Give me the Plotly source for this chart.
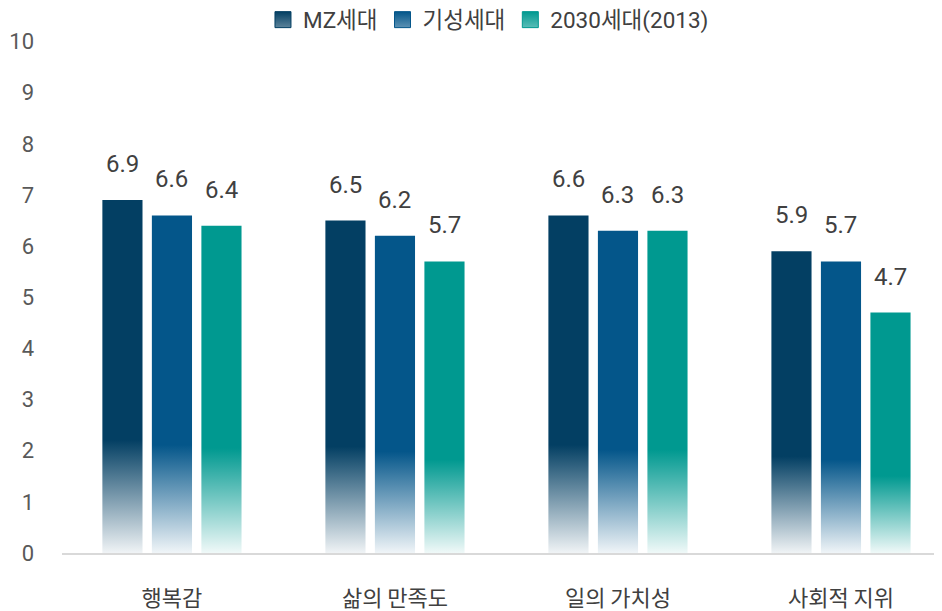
import plotly.graph_objects as go

categories = ["행복감", "삶의 만족도", "일의 가치성", "사회적 지위"]
series_names = ["MZ세대", "기성세대", "2030세대(2013)"]
mz_values = [6.9, 6.5, 6.6, 5.9]
older_values = [6.6, 6.2, 6.3, 5.7]
y2013_values = [6.4, 5.7, 6.3, 4.7]
y_ticks = list(range(0, 11))

series_values = [mz_values, older_values, y2013_values]
colors = [(3, 63, 99), (4, 86, 138), (0, 153, 144)]
offsets = [-0.222, 0.0, 0.222]
half_w = 0.09

# the page body has an 8px margin; figure is sized/offset to compensate
W, H = 934, 603

fig = go.Figure()
for s, (name, vals, col, off) in enumerate(zip(series_names, series_values, colors, offsets)):
    r, g, b = col
    solid = f"rgb({r},{g},{b})"
    cs = [[0, f"rgba({r},{g},{b},0.06)"], [0.32, solid], [1, solid]]
    for i, v in enumerate(vals):
        xc = i + off
        fig.add_trace(go.Scatter(
            x=[xc - half_w, xc + half_w, xc + half_w, xc - half_w, xc - half_w],
            y=[0, 0, v, v, 0],
            mode="none", fill="toself",
            fillcolor=solid,
            fillgradient=dict(type="vertical", colorscale=cs),
            name=name, showlegend=False,
            hoverinfo="skip",
        ))
        fig.add_annotation(x=xc, y=v, text=f"{v:.1f}", showarrow=False,
                           yanchor="bottom", yshift=20,
                           font=dict(size=24, color="#404040"))
    # legend entry
    fig.add_trace(go.Scatter(
        x=[None], y=[None], mode="markers", name=name,
        marker=dict(symbol="square", size=16, color=solid,
                    line=dict(width=1, color=solid),
                    gradient=dict(type="vertical", color=f"rgba({r},{g},{b},0.65)")),
        showlegend=True,
    ))

fig.update_layout(
    width=W, height=H,
    margin=dict(l=54, r=2, t=30, b=58),
    plot_bgcolor="white", paper_bgcolor="white",
    font=dict(family="Roboto, Noto Sans CJK KR, sans-serif", color="#404040"),
    legend=dict(orientation="h", xref="container", x=0.273, xanchor="left",
                yref="container", y=1 - 12 / H, yanchor="middle",
                font=dict(size=22.5, color="#404040"), traceorder="normal",
                itemsizing="trace",
                bgcolor="rgba(0,0,0,0)"),
    xaxis=dict(range=[-0.493, 3.444], tickvals=list(range(len(categories))),
               ticktext=categories, showgrid=False, zeroline=False,
               showline=True, linecolor="#d9d9d9", linewidth=2,
               tickfont=dict(size=22, color="#404040",
                             family="Noto Sans CJK KR, sans-serif"),
               ticks="", ticklabelstandoff=25, automargin=False),
    yaxis=dict(range=[0, 10], tickvals=y_ticks, showgrid=False, zeroline=False,
               showline=False, tickfont=dict(size=22, color="#595959"),
               ticks="", ticklabelstandoff=27, automargin=False),
)

fig.write_html("out.html")
